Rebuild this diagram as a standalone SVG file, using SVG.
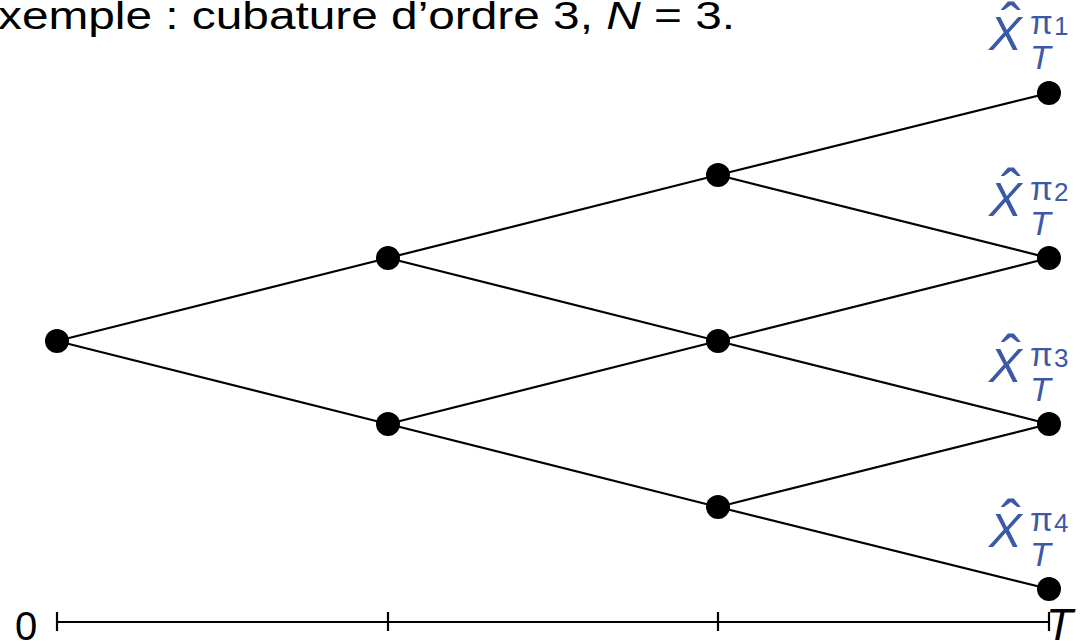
<svg xmlns="http://www.w3.org/2000/svg" width="1088" height="641" viewBox="0 0 1088 641">
<style>
.e{stroke:#000;stroke-width:2.2;fill:none}
.n{fill:#000}
.t{font-family:"Liberation Sans",Arial,sans-serif;fill:#000}
.b{font-family:"Liberation Sans",Arial,sans-serif;fill:#3c59a8}
.i{font-style:italic}
.X{font-size:49px;font-style:italic}
.h{font-size:60px;text-anchor:middle}
.p{font-size:33px}
.s{font-size:26px}
.T{font-size:34px;font-style:italic}
</style>
<rect width="1088" height="641" fill="#fff"/>
<text class="t" x="-2" y="29" font-size="38" textLength="737" lengthAdjust="spacingAndGlyphs">xemple : cubature d’ordre 3, <tspan class="i">N</tspan> = 3.</text>
<g id="connectors">
<line class="e" x1="57" y1="341" x2="388" y2="258"/>
<line class="e" x1="57" y1="341" x2="388" y2="424"/>
<line class="e" x1="388" y1="258" x2="718" y2="175"/>
<line class="e" x1="388" y1="258" x2="718" y2="341"/>
<line class="e" x1="388" y1="424" x2="718" y2="341"/>
<line class="e" x1="388" y1="424" x2="718" y2="507"/>
<line class="e" x1="718" y1="175" x2="1049" y2="93"/>
<line class="e" x1="718" y1="175" x2="1049" y2="258"/>
<line class="e" x1="718" y1="341" x2="1049" y2="258"/>
<line class="e" x1="718" y1="341" x2="1049" y2="424"/>
<line class="e" x1="718" y1="507" x2="1049" y2="424"/>
<line class="e" x1="718" y1="507" x2="1049" y2="589"/>
</g>
<g id="axis">
<line class="e" x1="57" y1="622" x2="1049" y2="622"/>
<line class="e" x1="57" y1="612" x2="57" y2="631"/>
<line class="e" x1="388" y1="612" x2="388" y2="631"/>
<line class="e" x1="718" y1="612" x2="718" y2="631"/>
<line class="e" x1="1049" y1="612" x2="1049" y2="631"/>
<text class="t" x="15" y="640" font-size="40">0</text>
<text class="t i" x="1046" y="640" font-size="44">T</text>
</g>
<g id="n0"><circle class="n" cx="57" cy="341" r="12"/></g>
<g id="n1"><circle class="n" cx="388" cy="258" r="12"/></g>
<g id="n2"><circle class="n" cx="388" cy="424" r="12"/></g>
<g id="n3"><circle class="n" cx="718" cy="175" r="12"/></g>
<g id="n4"><circle class="n" cx="718" cy="341" r="12"/></g>
<g id="n5"><circle class="n" cx="718" cy="507" r="12"/></g>
<g id="n6"><circle class="n" cx="1049" cy="93" r="12"/>
<g class="b">
<text class="b X" x="989" y="50">X</text>
<text class="b h" x="1011" y="45">ˆ</text>
<text class="b p" x="1030" y="34">π</text>
<text class="b s" x="1054" y="35">1</text>
<text class="b T" x="1030" y="69">T</text>
</g></g>
<g id="n7"><circle class="n" cx="1049" cy="258" r="12"/>
<g class="b" transform="translate(0,166)">
<text class="b X" x="989" y="50">X</text>
<text class="b h" x="1011" y="45">ˆ</text>
<text class="b p" x="1030" y="34">π</text>
<text class="b s" x="1054" y="35">2</text>
<text class="b T" x="1030" y="69">T</text>
</g></g>
<g id="n8"><circle class="n" cx="1049" cy="424" r="12"/>
<g class="b" transform="translate(0,332)">
<text class="b X" x="989" y="50">X</text>
<text class="b h" x="1011" y="45">ˆ</text>
<text class="b p" x="1030" y="34">π</text>
<text class="b s" x="1054" y="35">3</text>
<text class="b T" x="1030" y="69">T</text>
</g></g>
<g id="n9"><circle class="n" cx="1049" cy="589" r="12"/>
<g class="b" transform="translate(0,497)">
<text class="b X" x="989" y="50">X</text>
<text class="b h" x="1011" y="45">ˆ</text>
<text class="b p" x="1030" y="34">π</text>
<text class="b s" x="1054" y="35">4</text>
<text class="b T" x="1030" y="69">T</text>
</g></g>
</svg>
